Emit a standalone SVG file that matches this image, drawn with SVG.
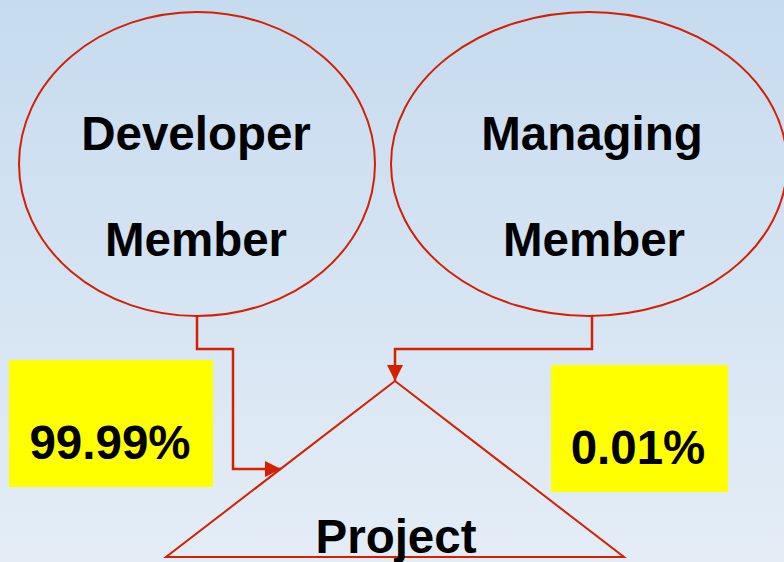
<svg xmlns="http://www.w3.org/2000/svg" width="784" height="562" viewBox="0 0 784 562">
<defs>
<linearGradient id="bg" x1="0" y1="0" x2="0" y2="1">
<stop offset="0" stop-color="#c6dbef"/>
<stop offset="1" stop-color="#e4edf6"/>
</linearGradient>
<marker id="arr" markerWidth="16" markerHeight="16" refX="16" refY="8" orient="auto" markerUnits="userSpaceOnUse">
<path d="M0,0 L16,8 L0,16 Z" fill="#d42000"/>
</marker>
<style>
.shape{fill:none;stroke:#d42000;stroke-width:2}
.lbl{font-family:"Liberation Sans",Arial,sans-serif;font-weight:bold;font-size:47.5px;fill:#000;text-anchor:middle}
.box{fill:#ffff00}
.conn{fill:none;stroke:#d42000;stroke-width:2.5;marker-end:url(#arr)}
</style>
</defs>
<rect width="784" height="562" fill="url(#bg)"/>
<g id="developer">
<ellipse class="shape" cx="197" cy="164" rx="178" ry="152"/>
<text class="lbl" x="196" y="150">Developer</text>
<text class="lbl" x="196" y="256">Member</text>
</g>
<g id="managing">
<ellipse class="shape" cx="589" cy="164" rx="198" ry="152"/>
<text class="lbl" x="592" y="150">Managing</text>
<text class="lbl" x="594" y="256">Member</text>
</g>
<g id="project">
<path class="shape" d="M395,381 L624,557 L166,557 Z"/>
<text class="lbl" x="396" y="553">Project</text>
</g>
<g id="pct-developer">
<rect class="box" x="9" y="360" width="204" height="127"/>
<text class="lbl" x="110" y="459">99.99%</text>
</g>
<g id="pct-managing">
<rect class="box" x="551" y="365" width="177" height="127"/>
<text class="lbl" x="638" y="464">0.01%</text>
</g>
<g id="connectors">
<path class="conn" d="M197,316 V349 H233 V469 H281"/>
<path class="conn" d="M592,316 V349 H395 V381"/>
</g>
</svg>
